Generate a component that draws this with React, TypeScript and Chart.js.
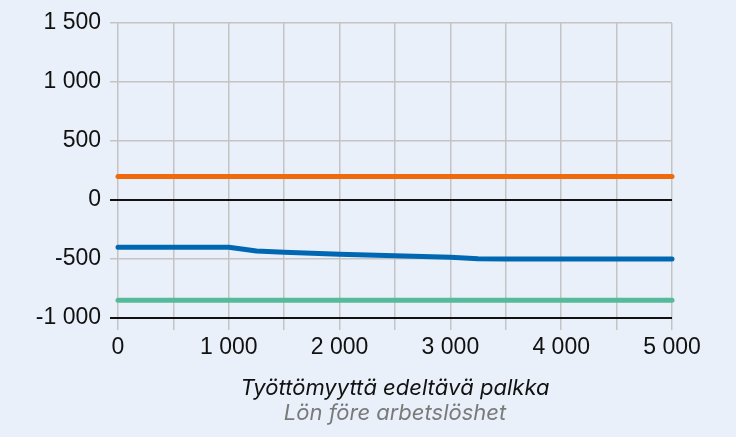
import React, { useEffect, useRef } from "react";
import { Chart, registerables } from "chart.js";

Chart.register(...registerables);

const salaries = [0, 500, 1000, 1250, 1500, 2000, 2500, 3000, 3250, 3500, 4000, 4500, 5000];
const blueSeries = [-400, -400, -400, -432, -443, -460, -472, -486, -498, -500, -500, -500, -500];
const orangeX = [0, 5000];
const orangeSeries = [200, 200];
const greenX = [0, 5000];
const greenSeries = [-850, -850];
const titleFi = "Työttömyyttä edeltävä palkka";
const titleSv = "Lön före arbetslöshet";

const BG = "#e9f0f9";
const TICK_FONT = "'Liberation Sans', Arial, sans-serif";
const TITLE_FONT = "Inter, Roboto, sans-serif";

const fmt = (v: number, sep: string) => {
  const s = Math.abs(v).toString().replace(/\B(?=(\d{3})+(?!\d))/g, sep);
  return (v < 0 ? "-" : "") + s;
};

export default function App() {
  const ref = useRef<HTMLCanvasElement | null>(null);
  useEffect(() => {
    document.body.style.margin = "0";
    document.body.style.background = BG;
    const ctx = ref.current!;
    const titlePlugin = {
      id: "twoTitles",
      afterDraw(chart: any) {
        const c = chart.ctx;
        const a = chart.chartArea;
        const cx = (a.left + a.right) / 2;
        c.save();
        c.textAlign = "center";
        c.textBaseline = "middle";
        c.font = `italic 22px ${TITLE_FONT}`;
        c.fillStyle = "#111111";
        c.fillText(titleFi, cx, a.bottom + 70);
        c.fillStyle = "#7a7a7a";
        c.fillText(titleSv, cx, a.bottom + 95);
        c.restore();
      },
    };
    const chart = new Chart(ctx, {
      type: "line",
      data: {
        datasets: [
          {
            data: orangeX.map((x, i) => ({ x, y: orangeSeries[i] })),
            borderColor: "#ef6a0b",
            borderWidth: 5,
            pointRadius: 0,
            borderCapStyle: "round",
            clip: 10,
          } as any,
          {
            data: salaries.map((x, i) => ({ x, y: blueSeries[i] })),
            borderColor: "#0068b3",
            borderWidth: 5,
            pointRadius: 0,
            borderCapStyle: "round",
            borderJoinStyle: "round",
            clip: 10,
          } as any,
          {
            data: greenX.map((x, i) => ({ x, y: greenSeries[i] })),
            borderColor: "#55b99a",
            borderWidth: 5,
            pointRadius: 0,
            borderCapStyle: "round",
            clip: 10,
          } as any,
        ],
      },
      options: {
        animation: false,
        responsive: false,
        events: [],
        layout: { padding: { left: 0, right: 64, top: 23, bottom: 0 } },
        plugins: { legend: { display: false }, tooltip: { enabled: false } },
        scales: {
          x: {
            type: "linear",
            min: 0,
            max: 5000,
            afterFit: (s: any) => {
              s.height = 119;
            },
            border: { display: false },
            grid: {
              color: "#c4c4c4",
              lineWidth: 1.5,
              tickLength: 12,
              drawTicks: true,
            },
            ticks: {
              stepSize: 500,
              autoSkip: false,
              maxRotation: 0,
              padding: 4,
              color: "#111111",
              font: { family: TICK_FONT, size: 23 },
              callback: (v: any) => (Number(v) % 1000 === 0 ? fmt(Number(v), " ") : ""),
            },
          },
          y: {
            min: -1000,
            max: 1500,
            afterFit: (s: any) => {
              s.width = 118;
            },
            border: { display: false },
            grid: {
              color: (c: any) => (c.tick && (c.tick.value === 0 || c.tick.value === -1000) ? "#111111" : "#c4c4c4"),
              lineWidth: (c: any) => (c.tick && (c.tick.value === 0 || c.tick.value === -1000) ? 2 : 1.5),
              tickLength: 8,
            },
            ticks: {
              stepSize: 500,
              padding: 9,
              color: "#111111",
              font: { family: TICK_FONT, size: 23 },
              callback: (v: any) => fmt(Number(v), " "),
            },
          },
        },
      },
      plugins: [titlePlugin],
    } as any);
    return () => chart.destroy();
  }, []);
  return (
    <div style={{ width: 736, height: 437, background: BG }}>
      <canvas ref={ref} width={736} height={437} style={{ display: "block" }} />
    </div>
  );
}
